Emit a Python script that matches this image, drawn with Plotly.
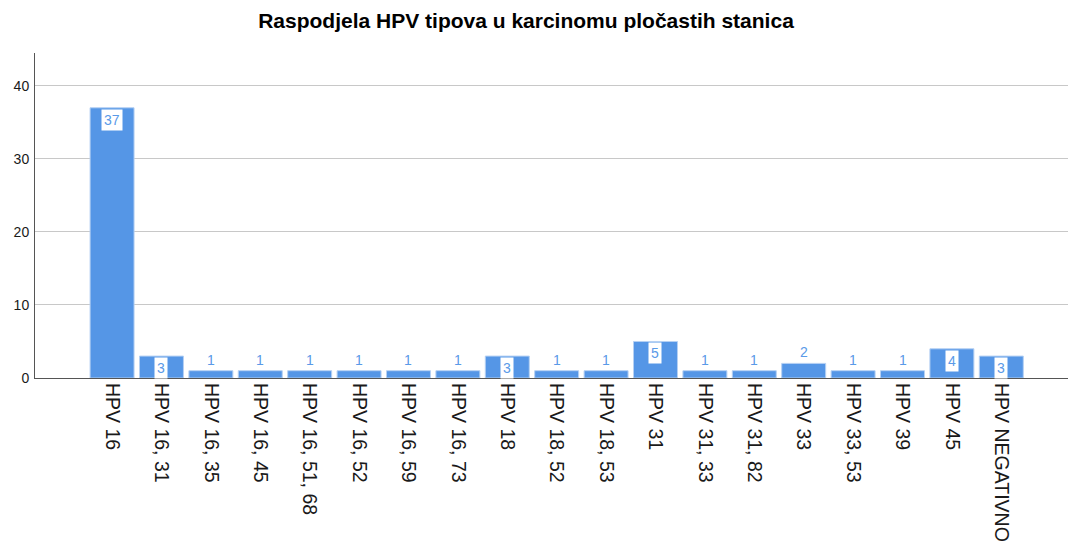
import plotly.graph_objects as go

categories = ["HPV 16", "HPV 16, 31", "HPV 16, 35", "HPV 16, 45", "HPV 16, 51, 68",
              "HPV 16, 52", "HPV 16, 59", "HPV 16, 73", "HPV 18", "HPV 18, 52",
              "HPV 18, 53", "HPV 31", "HPV 31, 33", "HPV 31, 82", "HPV 33",
              "HPV 33, 53", "HPV 39", "HPV 45", "HPV NEGATIVNO"]
counts = [37, 3, 1, 1, 1, 1, 1, 1, 3, 1, 1, 5, 1, 1, 2, 1, 1, 4, 3]
y_ticks = [0, 10, 20, 30, 40]

FONT = "Liberation Sans, Arial, sans-serif"
BAR = "#5596E6"
LABEL = "#5A9AE8"

fig = go.Figure()
fig.add_trace(go.Bar(
    x=categories, y=counts,
    marker=dict(color=BAR, line=dict(color="#B5D0F3", width=1)),
    width=0.89,
    hoverinfo="x+y",
))

for c, v in zip(categories, counts):
    if v >= 3:
        fig.add_annotation(x=c, y=v, text=str(v), showarrow=False, yanchor="top",
                           yshift=-1, bgcolor="white", borderpad=2,
                           font=dict(family=FONT, size=14, color=LABEL))
    else:
        fig.add_annotation(x=c, y=v, text=str(v), showarrow=False, yanchor="bottom",
                           yshift=1, font=dict(family=FONT, size=14, color=LABEL))

fig.update_layout(
    width=1068, height=544,
    margin=dict(l=35, r=0, t=53, b=166, autoexpand=False),
    paper_bgcolor="white", plot_bgcolor="white",
    showlegend=False,
    title=dict(text="<b>Raspodjela HPV tipova u karcinomu pločastih stanica</b>",
               x=526 / 1068, xanchor="center", y=1 - 21 / 544, yanchor="middle",
               font=dict(family=FONT, size=21, color="black")),
    xaxis=dict(type="category", range=[-1.56, 19.35], tickangle=90, automargin=False,
               tickfont=dict(family=FONT, size=19.5, color="#1a1a1a"),
               showline=True, linecolor="#555555", linewidth=1,
               showgrid=False, ticks=""),
    yaxis=dict(range=[0, 44.5], tickvals=y_ticks, automargin=False,
               tickfont=dict(family=FONT, size=14, color="#1a1a1a"),
               showline=True, linecolor="#555555", linewidth=1,
               showgrid=True, gridcolor="#C8C8C8", gridwidth=1,
               zeroline=False, ticks="", ticklabelstandoff=2),
)

fig.write_html("out.html", config={"displayModeBar": False},
               post_script="document.body.style.margin='0px';document.body.style.padding='0px';")
